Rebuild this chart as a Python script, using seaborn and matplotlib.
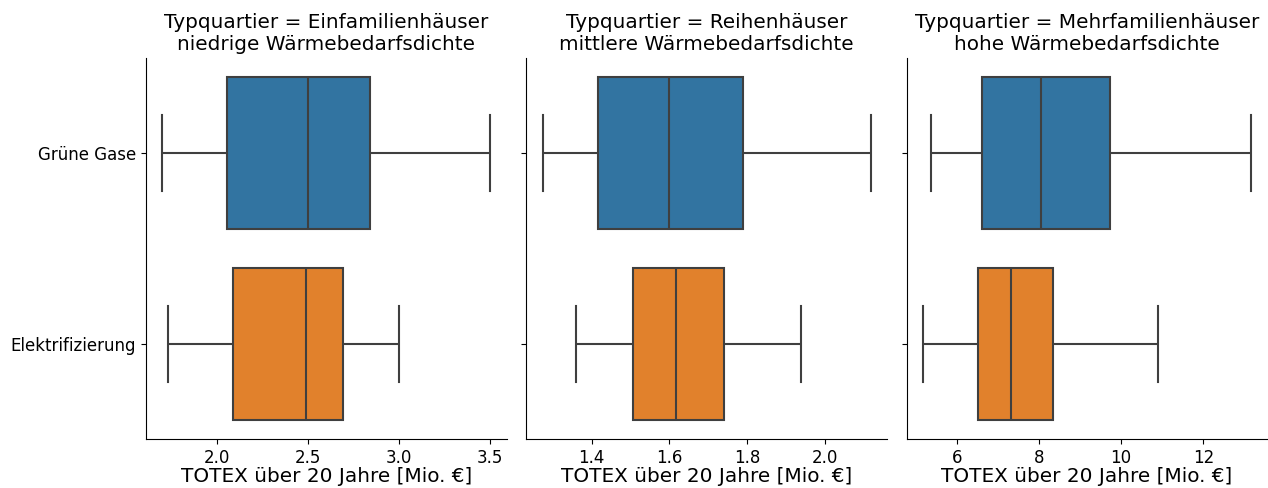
import pandas as pd
import seaborn as sns
import matplotlib.pyplot as plt

# Fünf-Punkte-Zusammenfassung je Box (Min, Q1, Median, Q3, Max)
typquartiere = ["Einfamilienhäuser\nniedrige Wärmebedarfsdichte",
                "Reihenhäuser\nmittlere Wärmebedarfsdichte",
                "Mehrfamilienhäuser\nhohe Wärmebedarfsdichte"]
varianten = ["Grüne Gase", "Elektrifizierung"]

efh_gas = [1.698, 2.055, 2.502, 2.839, 3.504]
efh_elek = [1.731, 2.086, 2.487, 2.691, 3.002]
rh_gas = [1.274, 1.415, 1.600, 1.788, 2.117]
rh_elek = [1.360, 1.505, 1.617, 1.741, 1.938]
mfh_gas = [5.379, 6.624, 8.049, 9.723, 13.16]
mfh_elek = [5.175, 6.527, 7.311, 8.340, 10.896]

werte = {
    (typquartiere[0], varianten[0]): efh_gas,
    (typquartiere[0], varianten[1]): efh_elek,
    (typquartiere[1], varianten[0]): rh_gas,
    (typquartiere[1], varianten[1]): rh_elek,
    (typquartiere[2], varianten[0]): mfh_gas,
    (typquartiere[2], varianten[1]): mfh_elek,
}

zeilen = []
for (tq, var), vals in werte.items():
    for v in vals:
        zeilen.append([tq, var, v])
df = pd.DataFrame(zeilen, columns=["Typquartier", "Variante", "TOTEX"])

g = sns.catplot(data=df, x="TOTEX", y="Variante", hue="Variante", col="Typquartier",
                kind="box", sharex=False, palette="tab10", legend=False,
                whis=(0, 100), linecolor="#3f3f3f", linewidth=1.5,
                height=4.88, aspect=12.68 / 3 / 4.88)

g.set_titles("{col_var} = {col_name}", size=14.4)
g.set_axis_labels("TOTEX über 20 Jahre [Mio. €]", "", size=14.4, labelpad=0.5)
for ax in g.axes.flat:
    ax.tick_params(labelsize=12)

g.figure.set_size_inches(12.68, 4.88)
g.figure.subplots_adjust(left=0.1151, right=0.9995, top=0.881, bottom=0.1004, wspace=0.054)
plt.savefig("out.png", dpi=100)
